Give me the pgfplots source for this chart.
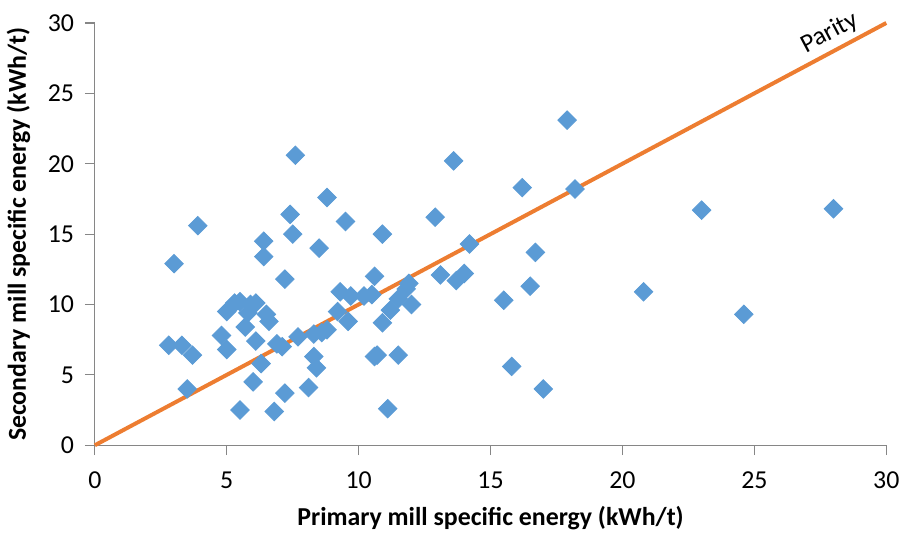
\documentclass[border=0pt]{standalone}
\usepackage{pgfplots}
\pgfplotsset{compat=1.18}
\usepackage{fontspec}
\setmainfont{Carlito}
\definecolor{cBlue}{HTML}{5B9BD5}
\definecolor{cOrange}{HTML}{ED7D31}
\definecolor{cAxis}{HTML}{868686}

\pgfplotstableread{
x y
2.8 7.1
3.0 12.9
3.3 7.1
3.5 4.0
3.7 6.4
3.9 15.6
4.8 7.8
5.0 6.8
5.0 9.5
5.3 10.1
5.5 2.5
5.5 10.2
5.7 8.4
5.8 9.4
5.9 10.0
6.0 4.5
6.1 10.1
6.1 7.4
6.3 5.8
6.4 14.5
6.4 13.4
6.5 9.3
6.6 8.8
6.8 2.4
6.9 7.2
7.1 7.0
7.2 11.8
7.2 3.7
7.4 16.4
7.5 15.0
7.6 20.6
7.7 7.7
8.1 4.1
8.3 7.9
8.3 6.3
8.4 5.5
8.5 14.0
8.6 8.0
8.8 8.2
8.8 17.6
9.2 9.5
9.3 10.9
9.5 15.9
9.6 8.8
9.7 10.6
10.2 10.6
10.5 10.7
10.6 12.0
10.6 6.3
10.7 6.4
10.9 8.7
10.9 15.0
11.1 2.6
11.2 9.6
11.5 6.4
11.5 10.4
11.8 11.1
11.9 11.5
12.0 10.0
12.9 16.2
13.1 12.1
13.6 20.2
13.7 11.7
14.0 12.2
14.2 14.3
15.5 10.3
15.8 5.6
16.2 18.3
16.5 11.3
16.7 13.7
17.0 4.0
17.9 23.1
18.2 18.2
20.8 10.9
23.0 16.7
24.6 9.3
28.0 16.8
}\mills

\begin{document}
\begin{tikzpicture}
\begin{axis}[
  scale only axis,
  width=14.0cm, height=7.47cm,
  xmin=0, xmax=30, ymin=0, ymax=30,
  xtick={0,5,...,30}, ytick={0,5,...,30},
  axis lines=left,
  axis line style={draw=cAxis, line width=0.6pt, -},
  tick style={draw=cAxis, line width=0.6pt},
  tick align=outside,
  major tick length=5pt,
  tick label style={font=\fontsize{13}{15}\selectfont},
  /pgf/number format/assume math mode=true,
  xticklabel style={yshift=-5pt},
  yticklabel style={xshift=-2pt},
  xlabel={\textbf{Primary mill specific energy (kWh/t)}},
  ylabel={\textbf{Secondary mill specific energy (kWh/t)}},
  label style={font=\fontsize{13}{15}\selectfont},
  xlabel style={yshift=-2pt},
  ylabel style={yshift=2pt},
  clip=false,
]
\addplot[only marks, mark=square*, mark size=3.3pt,
  mark options={rotate=45, fill=cBlue, draw=cBlue}] table {\mills};
\addplot[cOrange, line width=2pt, no marks] coordinates {(0,0) (30,30)};
\node[rotate=28, font=\fontsize{13}{15}\selectfont] at (axis cs:27.85,29.3) {Parity};
\end{axis}
\end{tikzpicture}
\end{document}
